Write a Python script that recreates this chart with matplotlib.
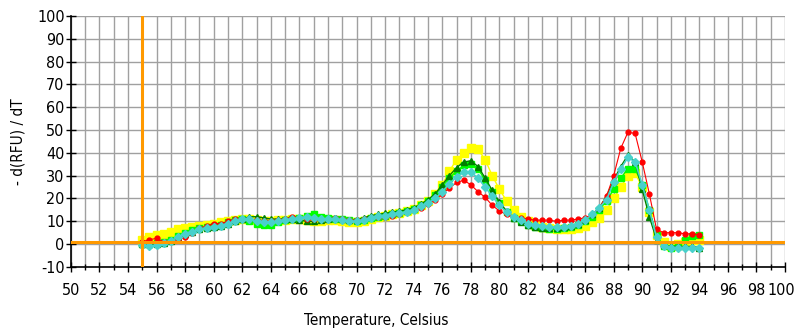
import matplotlib.pyplot as plt
import matplotlib.transforms as mtransforms
import numpy as np

plt.rcParams['font.family'] = ['DejaVu Sans']
plt.rcParams['font.stretch'] = 'condensed'
plt.rcParams['axes.unicode_minus'] = False

# melt temperatures, 0.5 C steps
temps = np.arange(55.0, 94.01, 0.5)

# -d(RFU)/dT per well
red = [1, 2, 2.5, 1, 1.5, 2, 3, 5, 7, 8,
       9, 9, 10, 11, 11, 11, 10.5, 10, 10, 10.5,
       11, 12, 11.5, 11, 11, 11, 11, 11.5, 11, 10.5,
       10.5, 11, 11.5, 12, 12, 12.5, 13, 14, 15, 16,
       17.5, 19.5, 22, 24.5, 27, 28, 26, 23, 20.5, 17,
       14.5, 13, 12, 11.5, 11, 10.5, 10.5, 10.5, 10, 10.5,
       10.5, 11, 11.5, 13, 16, 21, 30, 42, 49, 48.5,
       36, 22, 6.5, 5, 5, 5, 4.5, 4.5, 4]
yellow = [2, 3, 4, 4.5, 5.5, 6.5, 7, 7.5, 8, 8.5,
          9, 9.5, 10, 10.5, 11, 11, 10.5, 10, 10, 10.5,
          10.5, 11, 11, 10.5, 10, 10, 10.5, 10.5, 10, 9.5,
          9.5, 10, 11, 12, 12.5, 13, 13.5, 14.5, 15.5, 17,
          19, 22, 26, 32, 37, 40, 42, 41.5, 37, 30,
          24, 19, 15, 12, 10, 8.5, 7.5, 7, 6.5, 6.5,
          6.5, 7, 8, 9.5, 11.5, 15, 20, 25, 30, 31,
          25, 14, 4, 1, -1, 0, 1, 2, 2]
lime = [0, 0, 0.5, 1, 2, 3.5, 5, 6, 7, 7.5,
        8, 8.5, 9.5, 10.5, 11, 10, 9, 8.5, 8.5, 9.5,
        10.5, 11, 11.5, 12.5, 13, 12, 11.5, 11, 11, 10.5,
        10, 10.5, 11.5, 12, 12.5, 13, 13.5, 14.5, 15.5, 17,
        19, 21.5, 25, 29, 32, 34.5, 35, 33, 28, 23,
        18, 14, 11.5, 10, 8.5, 7.5, 7, 6.5, 6.5, 7,
        7.5, 8.5, 10, 12, 15, 19, 24, 29, 33, 33,
        26, 15, 4, -1, -1.5, -1, 2, 3.5, 4]
dkgreen = [0, 0, 0, 0.5, 1.5, 3, 4.5, 5.5, 6.5, 7,
           7.5, 8, 9, 10, 11, 12, 12, 11.5, 11, 11,
           11, 11, 10.5, 10, 10, 10.5, 11, 11.5, 11, 10.5,
           10.5, 11.5, 12.5, 13, 13.5, 14, 14.5, 15, 16, 17.5,
           19.5, 22, 26, 30, 33.5, 36, 36.5, 34, 29, 23.5,
           18.5, 14.5, 11.5, 9.5, 8.5, 7.5, 7, 7, 7, 7.5,
           8, 9, 10.5, 13, 16, 21, 28, 34, 39, 36,
           24, 12, 2, -0.5, -1, -1, -1, -1, -1.5]
turq = [-0.5, -1, -0.5, 0.5, 1.5, 3, 4.5, 5.5, 6.5, 7,
        7.5, 8, 9, 10, 11, 11, 10, 9.5, 9.5, 10,
        10.5, 11, 11.5, 12, 11.5, 11, 11, 11, 10.5, 10,
        10, 10.5, 11.5, 12.5, 12.5, 13, 13.5, 14, 15, 16.5,
        18, 20, 23, 26.5, 29.5, 31.5, 31.5, 29, 25, 21,
        17, 14, 12, 10.5, 9, 8.5, 8, 7.5, 7.5, 7.5,
        8, 9, 10.5, 13, 16, 19.5, 27, 33, 38, 36,
        26, 15, 3, -1, -1.5, -1.5, -1.5, -1.5, -1.5]

fig = plt.figure(figsize=(7.97, 3.30), dpi=100)
ax = fig.add_axes([0.089, 0.191, 0.896, 0.761])

ax.plot(temps, yellow, color='#FFFF00', marker='s', ms=5.5, lw=1, mec='#FFFF00', zorder=3)
ax.plot(temps, lime, color='#00FF00', marker='s', ms=5, lw=1, mec='#00FF00', zorder=3)
ax.plot(temps, dkgreen, color='#008000', marker='^', ms=4.5, lw=1, mec='#008000', zorder=3)
ax.plot(temps, red, color='#FF0000', marker='o', ms=3.5, lw=0.8, mec='#FF0000', zorder=3)
ax.plot(temps, turq, color='#48D1CC', marker='D', ms=4.5, lw=1.2, mec='#48D1CC', zorder=4)

# threshold / start lines
ax.axhline(1, color='#FF9900', lw=2.2, zorder=5)
ax.axvline(55, color='#FF9900', lw=2.2, zorder=5)

ax.set_xlim(50, 100)
ax.set_ylim(-10, 100)
ax.set_xticks(np.arange(50, 101, 2))
ax.set_xticks(np.arange(50, 101, 1), minor=True)
ax.set_yticks(np.arange(-10, 101, 10))
ax.grid(True, which='both', color='#A0A0A0', lw=1)
ax.grid(False, which='minor', axis='y')
ax.set_axisbelow(True)

for s in ['top', 'right']:
    ax.spines[s].set_visible(False)
for s in ['left', 'bottom']:
    ax.spines[s].set_linewidth(1.2)
ax.tick_params(axis='both', which='major', direction='inout', length=7, width=1, labelsize=11.5)
ax.tick_params(axis='x', which='minor', direction='inout', length=5, width=1)
ax.tick_params(axis='x', pad=8)
ax.tick_params(axis='y', pad=1)

# keep the last x label inside the figure
last = ax.get_xticklabels()[-1]
last.set_transform(last.get_transform() + mtransforms.ScaledTranslation(-4 / 100, 0, fig.dpi_scale_trans))

fig.text(0.023, 0.57, '- d(RFU) / dT', rotation=90, ha='center', va='center', fontsize=11)
fig.text(0.472, 0.03, 'Temperature, Celsius', ha='center', va='center', fontsize=11)

fig.savefig('out.png', dpi=100)
